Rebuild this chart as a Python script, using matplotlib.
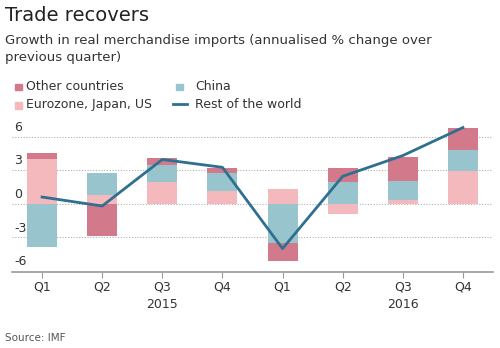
import matplotlib.pyplot as plt
from matplotlib.patches import Rectangle
from matplotlib.lines import Line2D

# Datos (% anualizado)
quarters = ["Q1", "Q2", "Q3", "Q4", "Q1", "Q2", "Q3", "Q4"]
years = ["2015", "2016"]
eurozone = [3.95, 0.75, 1.9, 1.1, 1.3, -0.9, 0.35, 2.9]
china = [-3.9, 2.0, 1.6, 1.65, -3.5, 1.95, 1.65, 1.9]
other = [0.55, -2.85, 0.55, 0.45, -1.6, 1.25, 2.15, 1.95]
rest_world = [0.6, -0.2, 3.95, 3.25, -4.0, 2.45, 4.3, 6.8]

c_other = "#d27a8c"
c_euro = "#f4b9bc"
c_china = "#98c4cd"
c_line = "#2f6f8f"
c_text = "#333333"

fig = plt.figure(figsize=(5, 3.48), dpi=100)
ax = fig.add_axes([0.024, 0.218, 0.962, 0.44])

x = list(range(len(quarters)))
w = 0.5
for i in x:
    pos, neg = 0.0, 0.0
    for val, col in [(eurozone[i], c_euro), (china[i], c_china), (other[i], c_other)]:
        if val >= 0:
            ax.bar(i, val, w, bottom=pos, color=col, linewidth=0, zorder=2)
            pos += val
        else:
            ax.bar(i, val, w, bottom=neg, color=col, linewidth=0, zorder=2)
            neg += val

ax.plot(x, rest_world, color=c_line, linewidth=2, zorder=3)

ax.set_xlim(-0.5, 7.5)
ax.set_ylim(-6.1, 7.56)
for yv in [-3, 0, 3, 6]:
    ax.axhline(yv, color="#b0b0b0", linewidth=0.8, linestyle=(0, (1, 1.5)), zorder=1)
for yv in [-6, -3, 0, 3, 6]:
    ax.text(0.005, yv + 0.25, str(yv), transform=ax.get_yaxis_transform(),
            fontsize=9, color=c_text, va="bottom", ha="left")

for s in ["top", "right", "left"]:
    ax.spines[s].set_visible(False)
ax.spines["bottom"].set_color("#999999")
ax.spines["bottom"].set_linewidth(1.2)
ax.set_yticks([])
ax.set_xticks(x)
ax.set_xticklabels(quarters, fontsize=9, color=c_text)
ax.tick_params(axis="x", length=4, color="#999999", pad=2)

ax.text(2, -9.0, years[0], ha="center", va="center", fontsize=9, color=c_text)
ax.text(6, -9.0, years[1], ha="center", va="center", fontsize=9, color=c_text)

# Títulos
fig.text(0.01, 0.955, "Trade recovers", fontsize=14, color="#222222", va="center")
fig.text(0.01, 0.885, "Growth in real merchandise imports (annualised % change over",
         fontsize=9.5, color=c_text, va="center")
fig.text(0.01, 0.835, "previous quarter)", fontsize=9.5, color=c_text, va="center")

# Leyenda
fig.patches.append(Rectangle((0.03, 0.74), 0.014, 0.02, transform=fig.transFigure, color=c_other))
fig.text(0.052, 0.752, "Other countries", fontsize=9, color=c_text, va="center")
fig.patches.append(Rectangle((0.03, 0.688), 0.014, 0.02, transform=fig.transFigure, color=c_euro))
fig.text(0.052, 0.7, "Eurozone, Japan, US", fontsize=9, color=c_text, va="center")
fig.patches.append(Rectangle((0.352, 0.74), 0.014, 0.02, transform=fig.transFigure, color=c_china))
fig.text(0.39, 0.752, "China", fontsize=9, color=c_text, va="center")
fig.lines.append(Line2D([0.345, 0.374], [0.7, 0.7], transform=fig.transFigure, color=c_line, linewidth=2))
fig.text(0.39, 0.7, "Rest of the world", fontsize=9, color=c_text, va="center")

fig.text(0.01, 0.03, "Source: IMF", fontsize=7.5, color="#555555", va="center")

plt.savefig("out.png", dpi=100)
